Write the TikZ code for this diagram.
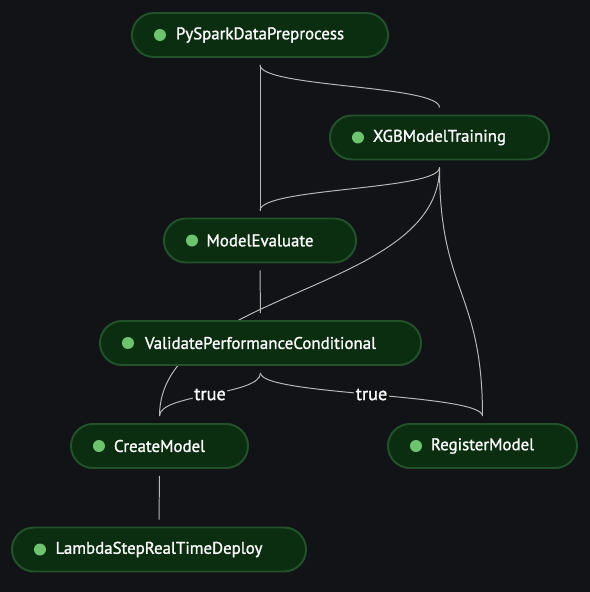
\documentclass[tikz,border=0pt]{standalone}
\usepackage{fontspec}
\setmainfont{PT Sans}[FakeBold=1.2]
\definecolor{canvas}{HTML}{121317}
\definecolor{stepfill}{HTML}{0A2E0F}
\definecolor{stepline}{HTML}{22522A}
\definecolor{stepdot}{HTML}{6CC46F}
\definecolor{linkgray}{HTML}{B8B8B8}
\pgfdeclarelayer{back}
\pgfsetlayers{back,main}

\begin{document}
\begin{tikzpicture}[x=0.025cm, y=-0.025cm,
    stepbox/.style={draw=stepline, line width=1.4pt, fill=stepfill, rounded corners=0.55cm,
        minimum height=1.1cm, text=white, font=\fontsize{12}{14}\selectfont,
        path picture={\fill[stepdot] ([xshift=0.7cm]path picture bounding box.west) circle (0.15cm);}},
    link/.style={draw=linkgray, line width=0.7pt, shorten <=0.175cm, shorten >=0.175cm},
    cond/.style={fill=canvas, text=white, inner sep=1pt, font=\fontsize{13}{15}\selectfont}]

    % pipeline steps
    \node[stepbox, minimum width=6.4cm] (pre) at (260,35) {PySparkDataPreprocess};
    \node[stepbox, minimum width=5.475cm] (train) at (439.5,137.5) {XGBModelTraining};
    \node[stepbox, minimum width=4.8cm] (eval) at (260,240.5) {ModelEvaluate};
    \node[stepbox, minimum width=8.025cm] (check) at (260.5,343) {ValidatePerformanceConditional};
    \node[stepbox, minimum width=4.425cm] (create) at (159.5,446) {CreateModel};
    \node[stepbox, minimum width=4.725cm] (register) at (482.5,446) {RegisterModel};
    \node[stepbox, minimum width=7.35cm] (deploy) at (159,549.5) {LambdaStepRealTimeDeploy};

    \begin{pgfonlayer}{back}
    \fill[canvas] (0,0) rectangle (590,592);

    % dependencies
    \draw[link] (pre.south) -- (eval.north);
    \draw[link] (pre.south) .. controls +(0,29.5) and +(0,-29.5) .. (train.north);
    \draw[link] (train.south) .. controls +(0,30) and +(0,-30) .. (eval.north);
    \draw[link] (train.south) .. controls +(0,132.5) and +(0,-132.5) .. (create.north);
    \draw[link] (train.south) .. controls +(0,132.5) and +(0,-132.5) .. (register.north);
    \draw[link] (eval.south) -- (check.north);
    \draw[link] (check.south) .. controls +(0,29.5) and +(0,-29.5) .. node[cond] {true} (create.north);
    \draw[link] (check.south) .. controls +(0,29.5) and +(0,-29.5) .. node[cond] {true} (register.north);
    \draw[link] (create.south) -- (deploy.north);
    \end{pgfonlayer}

\end{tikzpicture}
\end{document}
